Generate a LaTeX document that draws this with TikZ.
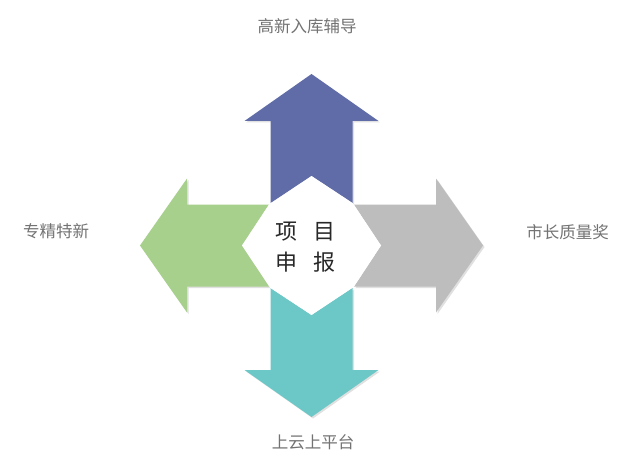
\documentclass[tikz,border=0pt]{standalone}
\usepackage{fontspec}
\newfontfamily\cjk{Noto Sans CJK SC}
\definecolor{cblue}{RGB}{95,108,168}
\definecolor{cgreen}{RGB}{168,208,141}
\definecolor{cgray}{RGB}{189,189,189}
\definecolor{cteal}{RGB}{108,200,199}
\definecolor{ctext}{RGB}{115,115,115}
\definecolor{cdark}{RGB}{40,40,40}
\tikzset{
  label/.style={font=\cjk\fontsize{16.5}{18}\selectfont, text=ctext, inner sep=0pt},
  center/.style={font=\cjk\fontsize{22}{24}\selectfont, text=cdark, inner sep=0pt},
}
\newcommand{\arrowshape}{(0,171.5) -- (67,124.5) -- (41,124.5) -- (41,42.5) -- (0,69.5) -- (-41,42.5) -- (-41,124.5) -- (-67,124.5) -- cycle}
\begin{document}
\begin{tikzpicture}[x=1pt,y=1pt]
\fill[white] (0,0) rectangle (628,472);
\useasboundingbox (0,0) rectangle (628,472);
\begin{scope}[shift={(311.5,226.5)}]
  \foreach \ang in {0,90,180,270} {
    \fill[black!12, shift={(1.5,-1.5)}, rotate=\ang] \arrowshape;
  }
  \fill[cblue] \arrowshape;
  \fill[cgreen, rotate=90] \arrowshape;
  \fill[cteal, rotate=180] \arrowshape;
  \fill[cgray, rotate=270] \arrowshape;
  \fill[white] (0,69.5) -- (41,42.5) -- (69.5,0) -- (42.5,-41) -- (0,-69.5) -- (-41,-42.5) -- (-69.5,0) -- (-42.5,41) -- cycle;
\end{scope}
\node[label] (top) at (307,446) {高新入库辅导};
\node[label] (bottom) at (313,30) {上云上平台};
\node[label] (left) at (56,240.3) {专精特新};
\node[label] (right) at (567.5,240.3) {市长质量奖};
\node[center] (c1) at (286,240.3) {项};
\node[center] (c2) at (324,240.3) {目};
\node[center] (c3) at (286,210.3) {申};
\node[center] (c4) at (324,210.3) {报};
\end{tikzpicture}
\end{document}
